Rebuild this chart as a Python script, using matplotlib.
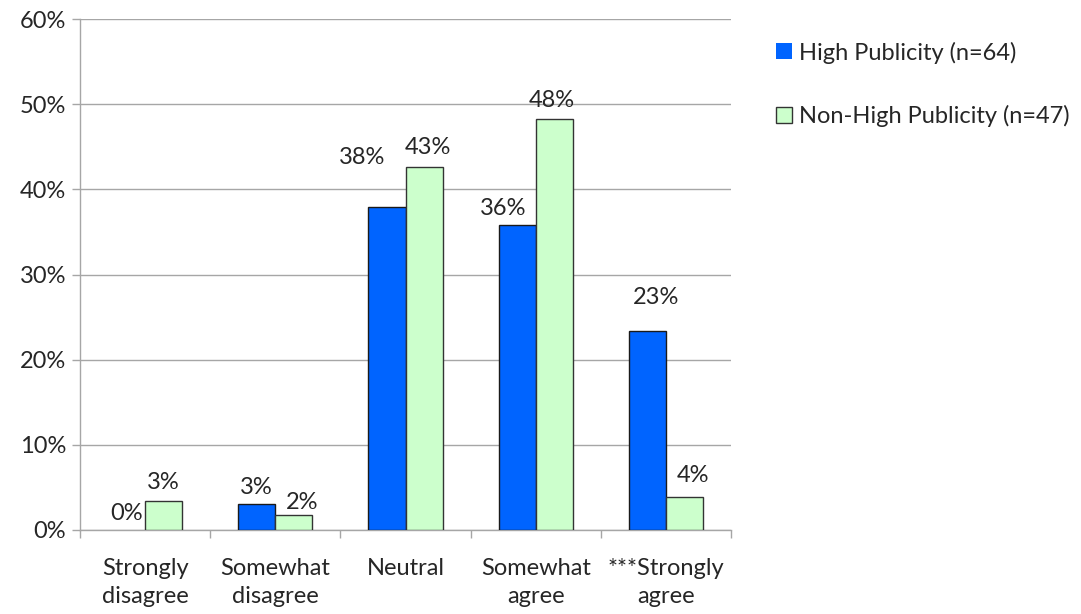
import numpy as np
import matplotlib.pyplot as plt
from matplotlib.ticker import FixedLocator, PercentFormatter

plt.rcParams['font.family'] = ['Lato', 'DejaVu Sans']

categories = ["Strongly\ndisagree", "Somewhat\ndisagree", "Neutral",
              "Somewhat\nagree", "***Strongly\nagree"]
high_pub = [0.0, 3.0, 37.9, 35.8, 23.4]
non_high_pub = [3.4, 1.8, 42.6, 48.2, 3.9]
series_names = ["High Publicity (n=64)", "Non-High Publicity (n=47)"]

# label offsets (points) relative to bar top centre
high_offsets = [(0, 12), (0, 12), (-18, 36), (-10, 12), (6, 24)]
non_high_offsets = [(0, 13), (6, 9), (3, 14), (-2, 14), (6, 15)]

blue = "#0064ff"
green = "#ccffcc"
grid_col = "#a6a6a6"
text_col = "#262626"
fs = 17

fig = plt.figure(figsize=(10.81, 6.14), dpi=100)
ax = fig.add_axes([80 / 1081, 1 - 530 / 614, 651 / 1081, 511 / 614])

x = np.arange(len(categories))
w = 0.285
b1 = ax.bar(x - w / 2, high_pub, w, color=blue, edgecolor="#1a1a1a",
            linewidth=1.0, label=series_names[0], zorder=3)
b2 = ax.bar(x + w / 2, non_high_pub, w, color=green, edgecolor="#333333",
            linewidth=1.0, label=series_names[1], zorder=3)

for bars, vals, offs in ((b1, high_pub, high_offsets), (b2, non_high_pub, non_high_offsets)):
    for rect, v, (dx, dy) in zip(bars, vals, offs):
        if v == 0:
            rect.set_linewidth(0)
        ax.annotate(f"{round(v):.0f}%",
                    (rect.get_x() + rect.get_width() / 2, rect.get_height()),
                    xytext=(dx, dy), textcoords="offset points",
                    ha="center", va="center", fontsize=fs, color=text_col)

ax.set_xlim(-0.5, len(categories) - 0.5)
ax.set_ylim(0, 60)
ax.yaxis.set_major_locator(FixedLocator(np.arange(0, 61, 10)))
ax.yaxis.set_major_formatter(PercentFormatter(decimals=0))
ax.grid(axis="y", color=grid_col, linewidth=1.0, zorder=0)
ax.set_axisbelow(True)

ax.set_xticks(x)
ax.set_xticklabels(categories, linespacing=1.45)
ax.set_xticks(np.arange(-0.5, len(categories)), minor=True)
ax.tick_params(axis="x", which="major", length=0, pad=20,
               labelsize=fs, labelcolor=text_col)
ax.tick_params(axis="x", which="minor", length=6, width=1, color=grid_col,
               direction="out")
ax.tick_params(axis="y", length=6, width=1, color=grid_col, pad=4,
               labelsize=fs, labelcolor=text_col)

for side in ("top", "right"):
    ax.spines[side].set_visible(False)
for side in ("left", "bottom"):
    ax.spines[side].set_color(grid_col)
    ax.spines[side].set_linewidth(1.0)

fig.legend(handles=[b1, b2], loc="upper left",
           bbox_to_anchor=(767 / 1081, 1 - 32 / 614),
           frameon=False, fontsize=fs, labelcolor=text_col,
           handlelength=0.65, handleheight=0.65, handletextpad=0.3,
           labelspacing=1.75, borderaxespad=0)

fig.savefig("out.png", dpi=100)
